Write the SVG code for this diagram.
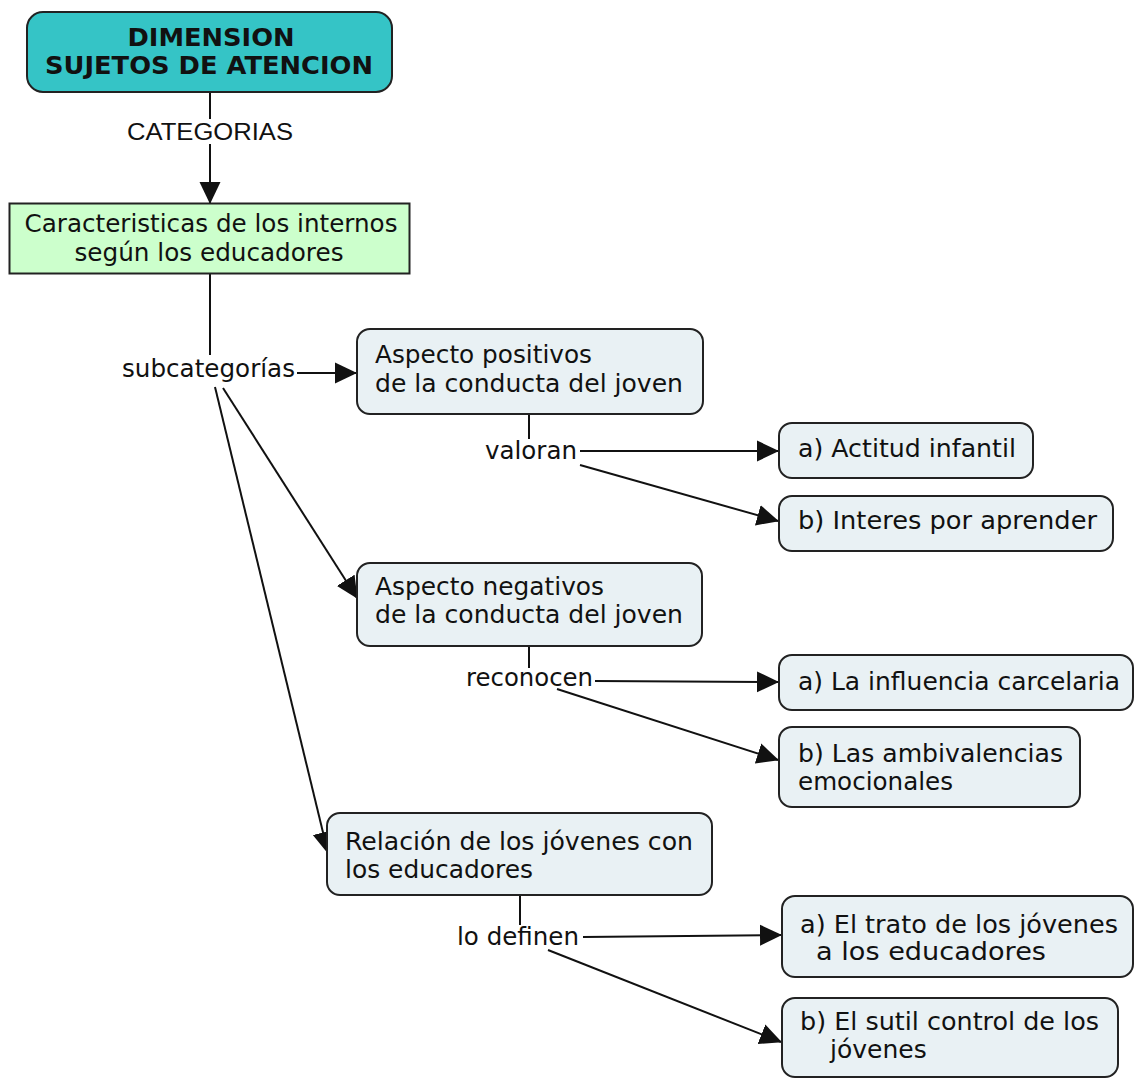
<svg xmlns="http://www.w3.org/2000/svg" width="1135" height="1078" viewBox="0 0 1135 1078">
<style>
.box{fill:#e9f1f4;stroke:#222;stroke-width:2}
.t{font-family:"DejaVu Sans","Liberation Sans",sans-serif;font-size:25px;fill:#111}
.b{font-family:"DejaVu Sans","Liberation Sans",sans-serif;font-size:25px;font-weight:bold;fill:#111}
.l{font-family:"Liberation Sans",Arial,sans-serif;font-size:23px;fill:#111}
.c{fill:none;stroke:#111;stroke-width:2}
</style>
<defs>
<marker id="ah" markerUnits="userSpaceOnUse" markerWidth="22" markerHeight="22" refX="21" refY="10.5" orient="auto" viewBox="0 0 22 21">
<path d="M0,0 L22,10.5 L0,21 z" fill="#111"/>
</marker>
</defs>
<rect width="1135" height="1078" fill="#fff"/>
<g id="connectors">
<line class="c" x1="210" y1="92" x2="210" y2="119"/>
<line class="c" x1="210" y1="144" x2="210" y2="203" marker-end="url(#ah)"/>
<line class="c" x1="210" y1="274" x2="210" y2="355"/>
<line class="c" x1="297" y1="373" x2="356" y2="373" marker-end="url(#ah)"/>
<line class="c" x1="223" y1="388" x2="357" y2="598" marker-end="url(#ah)"/>
<line class="c" x1="215" y1="387" x2="328" y2="853" marker-end="url(#ah)"/>
<line class="c" x1="529" y1="414" x2="529" y2="439"/>
<line class="c" x1="580" y1="451" x2="778" y2="451" marker-end="url(#ah)"/>
<line class="c" x1="580" y1="465" x2="778" y2="521" marker-end="url(#ah)"/>
<line class="c" x1="529" y1="647" x2="529" y2="668"/>
<line class="c" x1="595" y1="681" x2="778" y2="682" marker-end="url(#ah)"/>
<line class="c" x1="557" y1="689" x2="778" y2="760" marker-end="url(#ah)"/>
<line class="c" x1="520" y1="896" x2="520" y2="925"/>
<line class="c" x1="583" y1="937" x2="781" y2="935" marker-end="url(#ah)"/>
<line class="c" x1="548" y1="950" x2="781" y2="1042" marker-end="url(#ah)"/>
<text class="l" x="210" y="140" text-anchor="middle" textLength="166" lengthAdjust="spacingAndGlyphs">CATEGORIAS</text>
<text class="t" x="122" y="377" textLength="173" lengthAdjust="spacingAndGlyphs">subcategorías</text>
<text class="t" x="485" y="459" textLength="92" lengthAdjust="spacingAndGlyphs">valoran</text>
<text class="t" x="466" y="686" textLength="127" lengthAdjust="spacingAndGlyphs">reconocen</text>
<text class="t" x="457" y="945" textLength="122" lengthAdjust="spacingAndGlyphs">lo definen</text>
</g>
<g id="n-dimension">
<rect x="27" y="12" width="365" height="80" rx="16" fill="#35c4c6" stroke="#222" stroke-width="2"/>
<text class="b" x="211" y="46" text-anchor="middle" textLength="167" lengthAdjust="spacingAndGlyphs">DIMENSION</text>
<text class="b" x="209" y="74" text-anchor="middle" textLength="328" lengthAdjust="spacingAndGlyphs">SUJETOS DE ATENCION</text>
</g>
<g id="n-caracteristicas">
<rect x="9.5" y="203.5" width="400" height="70" fill="#ccffcc" stroke="#222" stroke-width="2"/>
<text class="t" x="211" y="232" text-anchor="middle" textLength="373" lengthAdjust="spacingAndGlyphs">Caracteristicas de los internos</text>
<text class="t" x="209" y="261" text-anchor="middle" textLength="269" lengthAdjust="spacingAndGlyphs">según los educadores</text>
</g>
<g id="n-positivos">
<rect class="box" x="357" y="329" width="346" height="85" rx="13"/>
<text class="t" x="375" y="363" textLength="217" lengthAdjust="spacingAndGlyphs">Aspecto positivos</text>
<text class="t" x="375" y="392" textLength="308" lengthAdjust="spacingAndGlyphs">de la conducta del joven</text>
</g>
<g id="n-actitud">
<rect class="box" x="779" y="423" width="254" height="55" rx="13"/>
<text class="t" x="798" y="457" textLength="218" lengthAdjust="spacingAndGlyphs">a) Actitud infantil</text>
</g>
<g id="n-interes">
<rect class="box" x="779" y="496" width="334" height="55" rx="13"/>
<text class="t" x="798" y="529" textLength="299" lengthAdjust="spacingAndGlyphs">b) Interes por aprender</text>
</g>
<g id="n-negativos">
<rect class="box" x="357" y="563" width="345" height="83" rx="13"/>
<text class="t" x="375" y="595" textLength="229" lengthAdjust="spacingAndGlyphs">Aspecto negativos</text>
<text class="t" x="375" y="623" textLength="308" lengthAdjust="spacingAndGlyphs">de la conducta del joven</text>
</g>
<g id="n-influencia">
<rect class="box" x="779" y="655" width="354" height="55" rx="13"/>
<text class="t" x="798" y="690" textLength="322" lengthAdjust="spacingAndGlyphs">a) La influencia carcelaria</text>
</g>
<g id="n-ambivalencias">
<rect class="box" x="779" y="727" width="301" height="80" rx="13"/>
<text class="t" x="798" y="762" textLength="265" lengthAdjust="spacingAndGlyphs">b) Las ambivalencias</text>
<text class="t" x="798" y="790" textLength="155" lengthAdjust="spacingAndGlyphs">emocionales</text>
</g>
<g id="n-relacion">
<rect class="box" x="327" y="813" width="385" height="82" rx="13"/>
<text class="t" x="345" y="850" textLength="348" lengthAdjust="spacingAndGlyphs">Relación de los jóvenes con</text>
<text class="t" x="345" y="878" textLength="188" lengthAdjust="spacingAndGlyphs">los educadores</text>
</g>
<g id="n-trato">
<rect class="box" x="782" y="896" width="351" height="81" rx="13"/>
<text class="t" x="800" y="933" textLength="318" lengthAdjust="spacingAndGlyphs">a) El trato de los jóvenes</text>
<text class="t" x="816" y="960" textLength="230" lengthAdjust="spacingAndGlyphs">a los educadores</text>
</g>
<g id="n-sutil">
<rect class="box" x="782" y="998" width="336" height="79" rx="13"/>
<text class="t" x="800" y="1030" textLength="299" lengthAdjust="spacingAndGlyphs">b) El sutil control de los</text>
<text class="t" x="830" y="1058">jóvenes</text>
</g>
</svg>
